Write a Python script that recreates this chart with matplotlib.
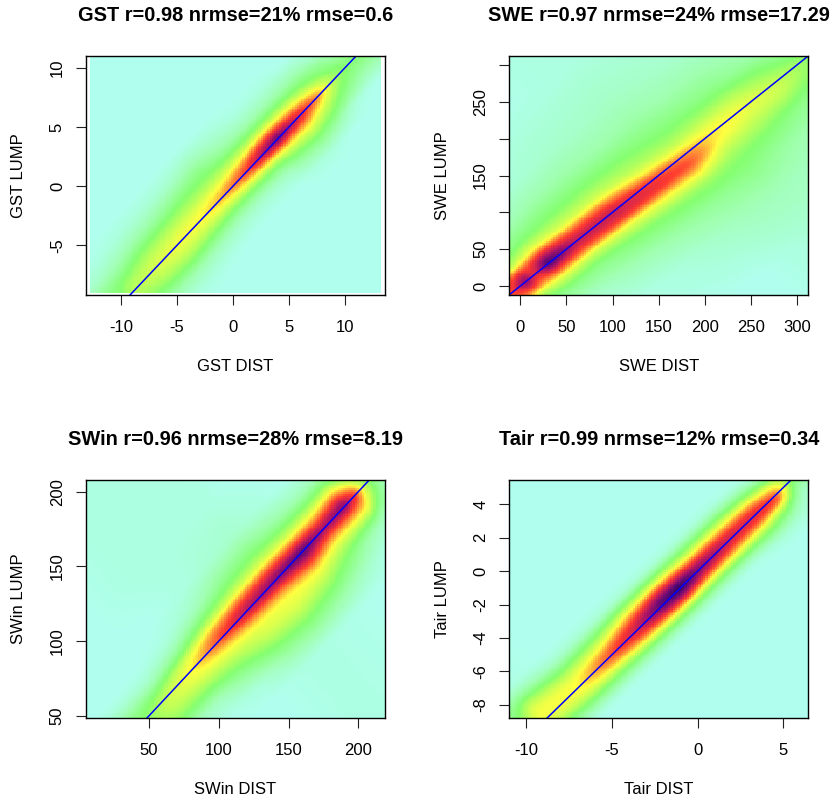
import numpy as np
import matplotlib
matplotlib.use("Agg")
import matplotlib.pyplot as plt
from matplotlib.colors import LinearSegmentedColormap

plt.rcParams['font.family'] = ['Liberation Sans', 'DejaVu Sans']
plt.rcParams['axes.unicode_minus'] = False

# Density levels, tabulated along the 1:1 line (t=(x+y)/2)
# and across it (d=y-x).
gst_t = [-11, -9, -7, -5, -3, -1, 1, 3, 4, 6, 7.5, 9, 10.5]
gst_d = [-8, -6, -4, -3, -2, -1, 0, 1, 2, 3, 4, 6, 8]
gst_z = [
    [0, 0, 0, 0, 0, .02, .05, .12, .18, .14, .06, 0, 0],
    [0, 0, .1, .18, .25, .3, .33, .3, .24, .16, .1, .02, 0],
    [0, .03, .14, .23, .3, .35, .38, .35, .3, .23, .14, .04, 0],
    [0, .03, .13, .24, .32, .38, .42, .38, .32, .25, .16, .05, 0],
    [0, .01, .1, .2, .3, .38, .44, .4, .33, .27, .2, .06, 0],
    [0, 0, .07, .16, .27, .4, .52, .44, .34, .27, .22, .1, 0],
    [0, 0, .06, .15, .28, .45, .64, .5, .35, .25, .15, .06, 0],
    [0, 0, .08, .18, .3, .52, .85, .62, .38, .24, .12, .02, 0],
    [0, .02, .15, .25, .36, .55, .95, .62, .38, .24, .12, .02, 0],
    [0, .03, .2, .3, .4, .55, .72, .52, .35, .22, .12, .02, 0],
    [0, 0, .14, .25, .32, .42, .58, .42, .28, .2, .12, 0, 0],
    [0, 0, .03, .15, .22, .28, .32, .27, .2, .15, .05, 0, 0],
    [0, 0, 0, .08, .14, .2, .24, .18, .1, .06, .02, 0, 0],
]

swe_t = [-10, 5, 15, 30, 60, 100, 140, 175, 205, 240, 275, 310]
swe_d = [-250, -150, -100, -60, -35, -18, 0, 18, 35, 60, 100, 150, 250]
swe_z = [
    [0, 0, .02, .1, .25, .5, .62, .5, .25, .1, .02, 0, 0],
    [0, .01, .05, .13, .3, .62, .88, .66, .3, .14, .05, .01, 0],
    [0, .01, .05, .17, .36, .55, .66, .6, .38, .2, .07, .02, 0],
    [0, .01, .05, .2, .38, .62, .98, .72, .42, .24, .1, .03, 0],
    [0, .02, .1, .2, .36, .6, .76, .6, .38, .26, .14, .04, 0],
    [0, .04, .13, .25, .4, .66, .74, .58, .38, .27, .15, .07, .01],
    [0, .08, .16, .28, .45, .66, .64, .44, .33, .26, .14, .08, .02],
    [.03, .11, .18, .3, .48, .62, .54, .38, .3, .23, .15, .09, .03],
    [.05, .11, .2, .27, .36, .44, .46, .38, .3, .22, .13, .08, .03],
    [.05, .1, .15, .25, .33, .38, .42, .37, .3, .2, .13, .06, .02],
    [.04, .08, .12, .2, .3, .36, .36, .3, .25, .15, .1, .05, .02],
    [.03, .05, .08, .15, .22, .26, .28, .22, .15, .1, .06, .03, .01],
]

swin_t = [45, 60, 80, 100, 120, 140, 160, 175, 190, 198, 204, 212]
swin_d = [-80, -60, -40, -30, -20, -10, 0, 10, 20, 30, 40, 60, 100]
swin_z = [
    [0, 0, .05, .12, .2, .25, .25, .2, .1, .02, 0, 0, 0],
    [0, 0, .1, .22, .3, .35, .35, .25, .1, .03, 0, 0, 0],
    [0, .01, .1, .22, .32, .4, .44, .38, .2, .08, .02, 0, .02],
    [0, .04, .2, .28, .36, .45, .62, .52, .32, .18, .08, .02, .03],
    [.02, .14, .3, .37, .4, .52, .78, .6, .38, .25, .17, .05, .03],
    [.02, .18, .34, .4, .42, .56, .86, .64, .4, .28, .2, .07, .03],
    [.01, .14, .3, .38, .48, .7, .94, .6, .38, .25, .14, .03, 0],
    [0, .08, .22, .3, .4, .56, .82, .56, .38, .23, .11, 0, 0],
    [0, .02, .12, .25, .4, .58, .88, .64, .42, .24, .1, 0, 0],
    [0, 0, .08, .22, .4, .52, .66, .46, .28, .15, .05, 0, 0],
    [0, 0, .04, .12, .26, .34, .36, .26, .16, .06, 0, 0, 0],
    [0, 0, 0, .02, .08, .14, .15, .12, .06, .02, 0, 0, 0],
]

tair_t = [-10.5, -9, -7, -5, -3.5, -2, -1, 0, 2, 3.5, 4.5, 5, 5.5]
tair_d = [-4, -3, -2.2, -1.5, -1, -.5, 0, .5, 1, 1.5, 2.2, 3, 4]
tair_z = [
    [0, 0, 0, 0, 0, .02, .04, .06, .08, .1, .12, .1, 0],
    [0, .02, .1, .2, .3, .36, .4, .42, .42, .38, .3, .15, .02],
    [0, .01, .14, .28, .36, .42, .43, .43, .38, .32, .2, .06, 0],
    [0, .01, .15, .3, .42, .55, .62, .56, .44, .35, .22, .05, 0],
    [0, .01, .16, .35, .5, .64, .74, .68, .55, .43, .26, .05, 0],
    [0, .01, .17, .38, .55, .78, .92, .85, .66, .46, .26, .04, 0],
    [0, .01, .17, .38, .6, .84, 1.0, .86, .62, .44, .24, .03, 0],
    [0, .01, .16, .36, .52, .74, .88, .74, .54, .38, .22, .03, 0],
    [0, .01, .16, .36, .5, .64, .74, .64, .5, .37, .2, .03, 0],
    [0, .05, .2, .34, .48, .64, .7, .6, .46, .32, .14, .01, 0],
    [0, .04, .14, .28, .4, .62, .62, .48, .36, .22, .06, 0, 0],
    [0, .03, .08, .18, .3, .4, .44, .38, .3, .16, .03, 0, 0],
    [0, .01, .04, .08, .12, .2, .25, .2, .12, .05, 0, 0, 0],
]

titles = ["GST r=0.98 nrmse=21% rmse=0.6", "SWE r=0.97 nrmse=24% rmse=17.29",
          "SWin r=0.96 nrmse=28% rmse=8.19", "Tair r=0.99 nrmse=12% rmse=0.34"]
xlabels = ["GST DIST", "SWE DIST", "SWin DIST", "Tair DIST"]
ylabels = ["GST LUMP", "SWE LUMP", "SWin LUMP", "Tair LUMP"]
xticks = [[-10, -5, 0, 5, 10], [0, 50, 100, 150, 200, 250, 300], [50, 100, 150, 200], [-10, -5, 0, 5]]
yticks = [[-5, 0, 5, 10], [0, 50, 100, 150, 200, 250, 300], [50, 100, 150, 200], [-8, -6, -4, -2, 0, 2, 4]]
yshown = [[-5, 0, 5, 10], [0, 50, 150, 250], [50, 100, 150, 200], [-8, -6, -4, -2, 0, 2, 4]]
xlims = [(-13.13, 13.57), (-11.9, 312.3), (4.8, 219.1), (-10.99, 6.46)]
ylims = [(-9.2, 10.99), (-12.2, 312.2), (48.3, 208), (-8.8, 5.47)]
extents = [(-12.75, 13.2, -9.05, 10.85), None, None, None]
boxes = [(86, 56, 385, 295), (509.3, 56, 808.3, 295), (86, 479.7, 385, 718.3), (509.3, 479.7, 808.3, 718.3)]
tables = [(gst_t, gst_d, gst_z), (swe_t, swe_d, swe_z), (swin_t, swin_d, swin_z), (tair_t, tair_d, tair_z)]

cmap = LinearSegmentedColormap.from_list("dens", [
    (0.0, "#B0FFEE"), (0.13, "#A0FFB0"), (0.25, "#85FF70"), (0.35, "#C8FF55"),
    (0.43, "#FFFF40"), (0.52, "#FF9A38"), (0.62, "#FF3A30"), (0.76, "#B01565"),
    (0.88, "#5A0A78"), (1.0, "#180045")])

W, H = 832, 799


def lookup(t, d, z, xx, yy):
    tq, dq = (xx + yy) / 2, yy - xx
    z = np.asarray(z, float)
    by_d = np.array([np.interp(tq.ravel(), t, z[:, j]) for j in range(z.shape[1])])
    out = np.empty(tq.size)
    dr = dq.ravel()
    for i in range(tq.size):
        out[i] = np.interp(dr[i], d, by_d[:, i])
    return out.reshape(tq.shape)


def blur(a, s=1.5):
    r = int(3 * s)
    k = np.exp(-0.5 * (np.arange(-r, r + 1) / s) ** 2)
    k /= k.sum()
    p = np.pad(a, r, mode="edge")
    p = np.apply_along_axis(lambda v: np.convolve(v, k, mode="same"), 0, p)
    p = np.apply_along_axis(lambda v: np.convolve(v, k, mode="same"), 1, p)
    return p[r:-r, r:-r]


fig = plt.figure(figsize=(W / 100, H / 100), dpi=100)
for i in range(4):
    l, t_, r, b = boxes[i]
    ax = fig.add_axes([l / W, 1 - b / H, (r - l) / W, (b - t_) / H])
    ext = extents[i] or (*xlims[i], *ylims[i])
    gx = np.linspace(ext[0], ext[1], 128)
    gy = np.linspace(ext[2], ext[3], 128)
    xx, yy = np.meshgrid(gx, gy)
    dens = blur(lookup(*tables[i], xx, yy))
    ax.imshow(dens, origin="lower", extent=ext, cmap=cmap, vmin=0, vmax=1,
              aspect="auto", interpolation="nearest")
    ax.plot(xlims[i], xlims[i], color="#0000FF", lw=1.1)
    ax.set_xlim(xlims[i])
    ax.set_ylim(ylims[i])
    ax.set_xticks(xticks[i])
    ax.set_yticks(yticks[i])
    ax.set_yticklabels([str(v) if v in yshown[i] else "" for v in yticks[i]],
                       rotation=90, va="center")
    ax.tick_params(length=7.2, width=0.8, labelsize=12, color="#222222")
    ax.tick_params(axis="x", pad=10.5)
    ax.tick_params(axis="y", pad=8)
    for s in ax.spines.values():
        s.set_linewidth(1.0)
    ax.set_xlabel(xlabels[i], fontsize=12, labelpad=17.5)
    ax.set_ylabel(ylabels[i], fontsize=12, labelpad=17)
    ax.set_title(titles[i], fontsize=14.4, fontweight="bold", pad=25)

fig.savefig("out.png", dpi=100)
